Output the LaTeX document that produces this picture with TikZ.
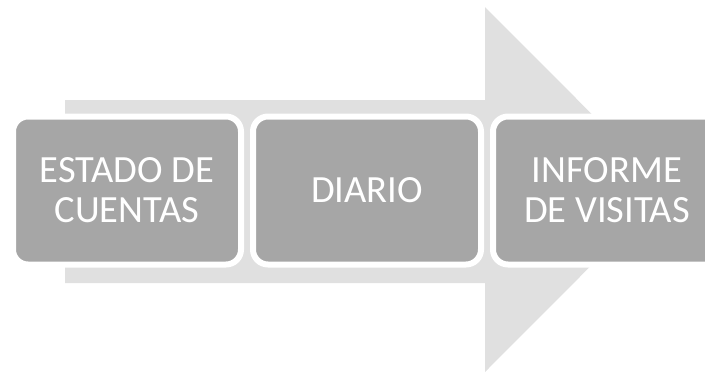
\documentclass[tikz,border=0pt]{standalone}
\usepackage{fontspec}
\setmainfont{Carlito}
\usetikzlibrary{calc}
\definecolor{flecha}{HTML}{E0E0E0}
\definecolor{caja}{HTML}{A6A6A6}
\tikzset{paso/.style={draw=white, line width=6pt, fill=caja, rounded corners=15pt,
    minimum width=228pt, minimum height=148pt, text=white, align=center,
    font=\fontsize{38.5}{40}\selectfont}}

\begin{document}
\begin{tikzpicture}[x=1pt, y=-1pt]
            \useasboundingbox (0,0) rectangle (705,373);
            \clip (0,0) rectangle (705,373);
            \fill[flecha] (65,100) -- (485,100) -- (485,7) -- (667,189.5) -- (485,372) -- (485,283) -- (65,283) -- cycle;

            \node[paso] (estado) at (127,190.5) {ESTADO DE\\CUENTAS};
            \node[paso] (diario) at (367,190.5) {DIARIO};
            \node[paso] (informe) at (607,190.5) {INFORME\\DE VISITAS};
        \end{tikzpicture}
\end{document}
